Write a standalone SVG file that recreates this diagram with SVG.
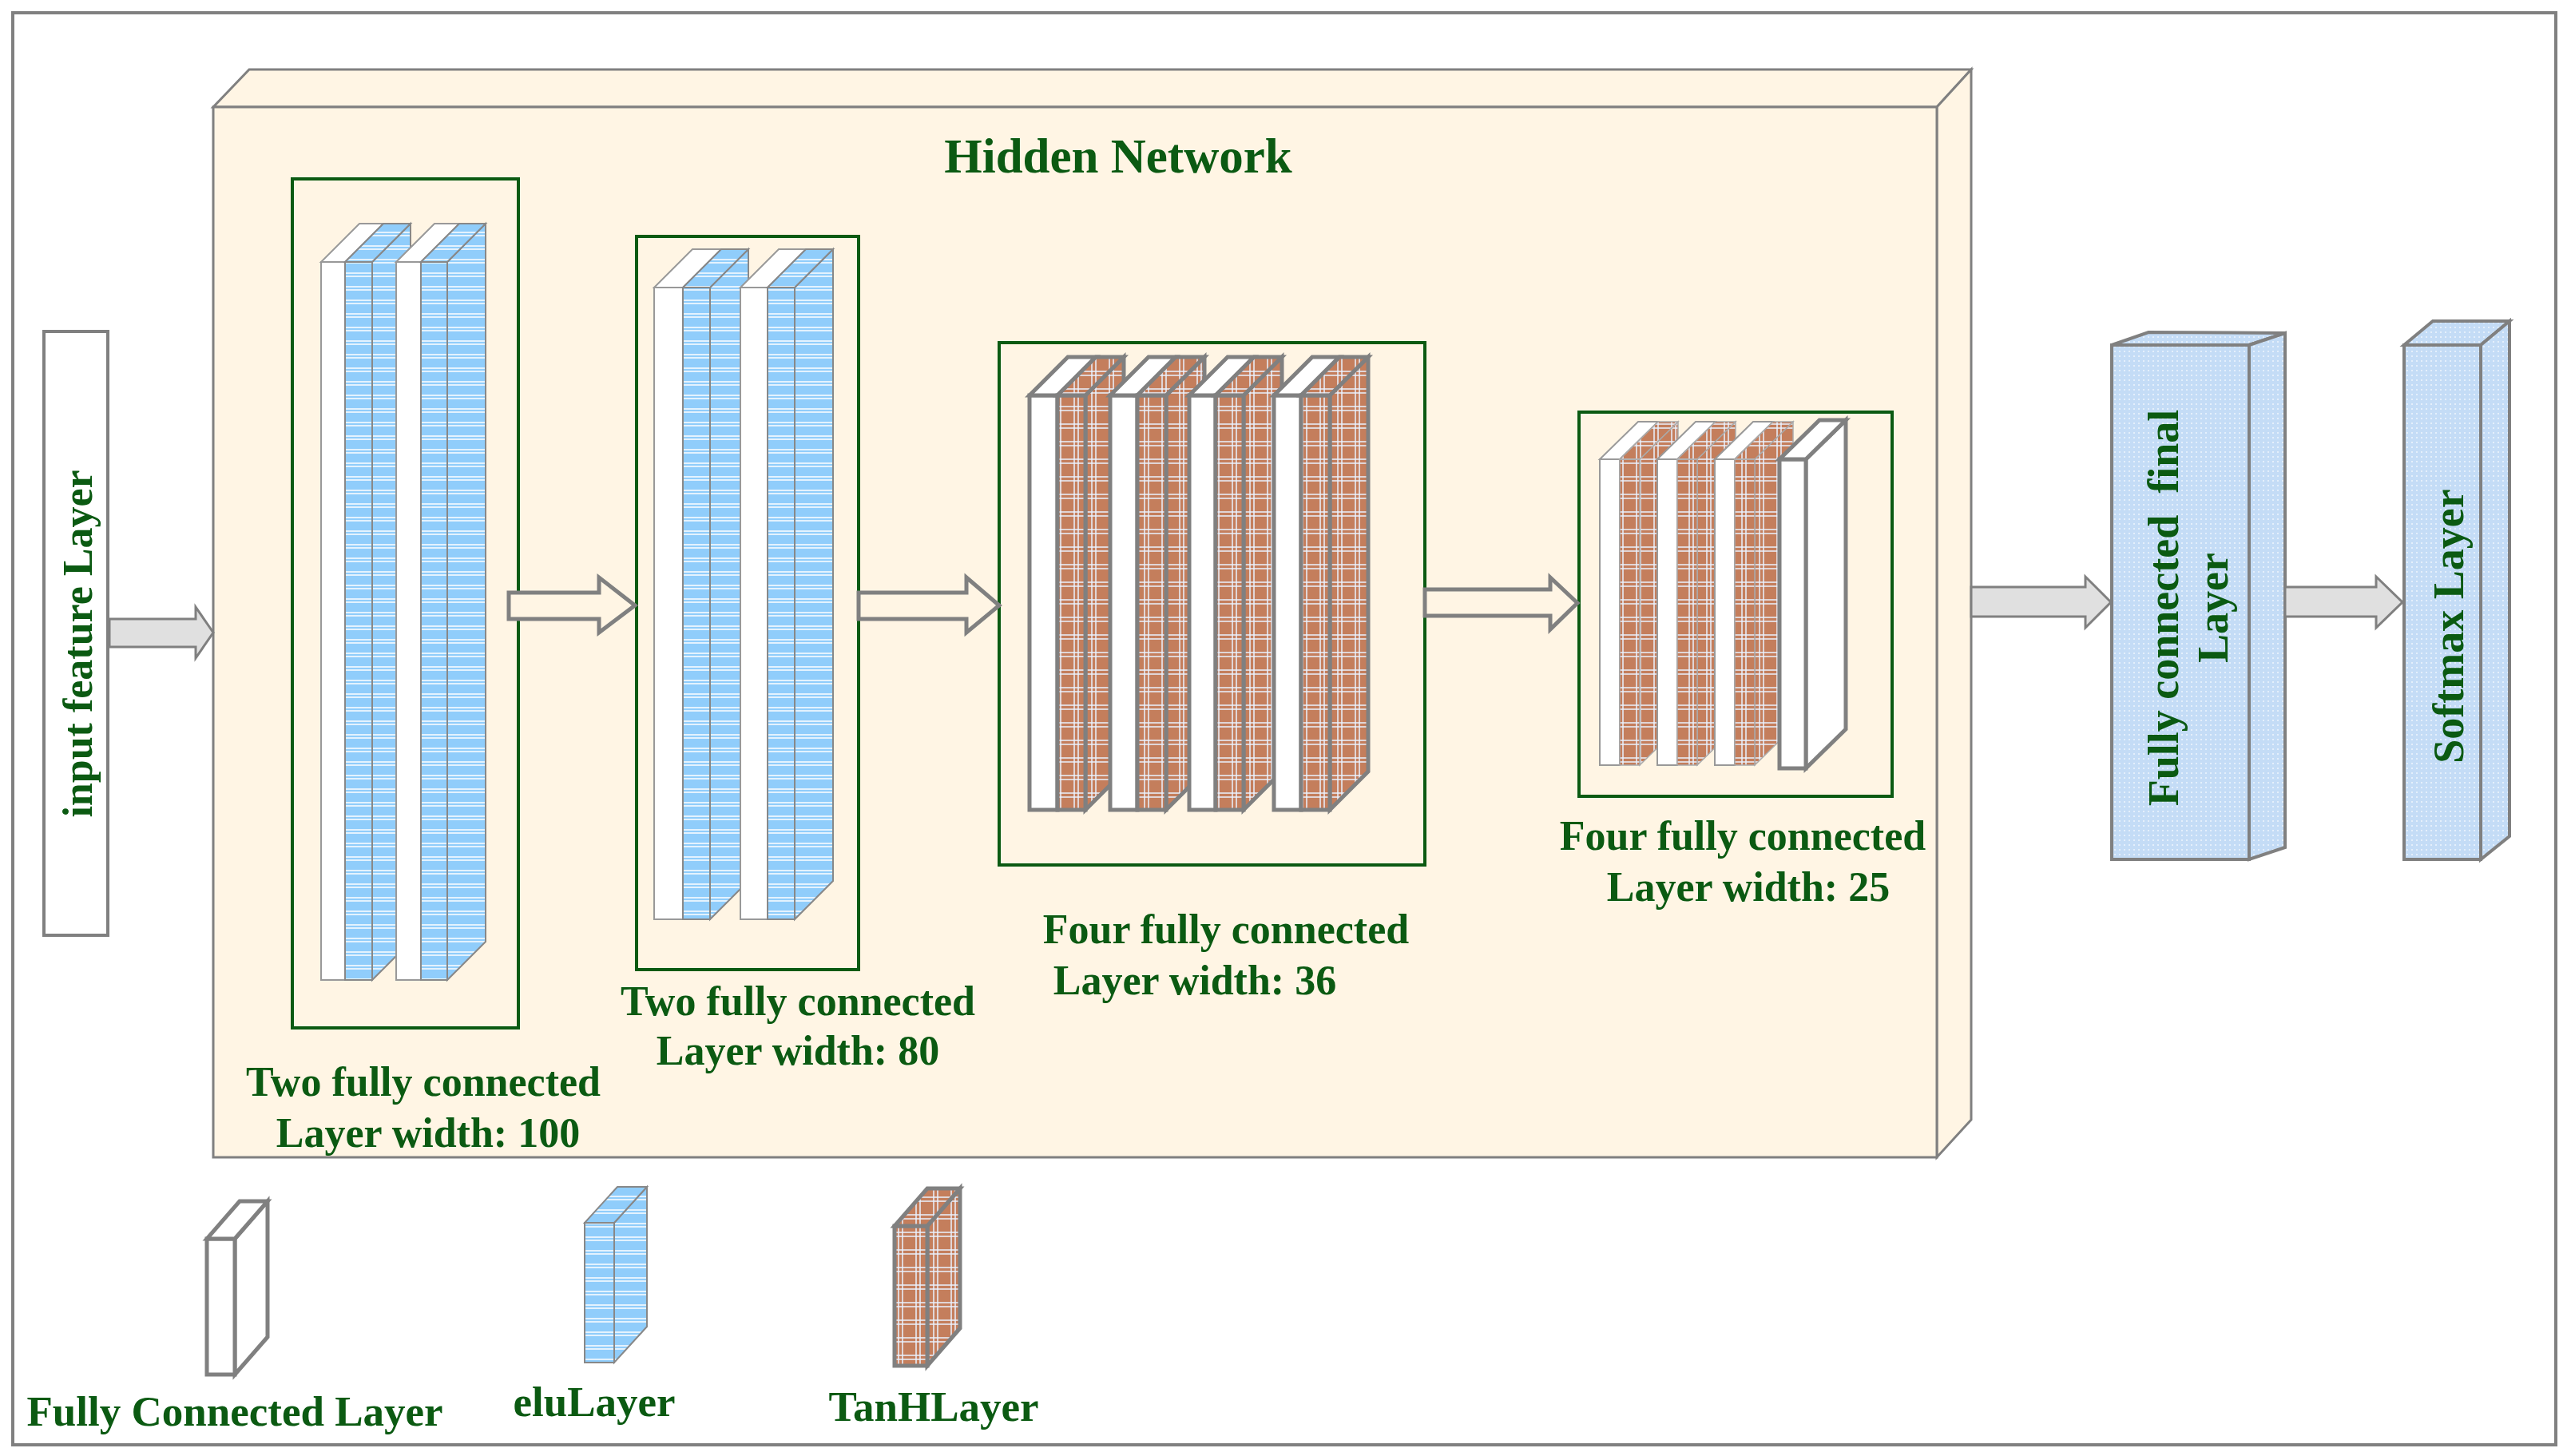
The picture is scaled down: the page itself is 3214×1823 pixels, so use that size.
<svg xmlns="http://www.w3.org/2000/svg" width="3214" height="1823" viewBox="0 0 3214 1823">
<defs>
<pattern id="elu" width="20" height="17" patternUnits="userSpaceOnUse"><rect width="20" height="17" fill="#90CDFB"/><line x1="0" y1="2" x2="20" y2="2" stroke="#fff" stroke-width="1.5"/><line x1="0" y1="6" x2="20" y2="6" stroke="#fff" stroke-width="1.5"/></pattern>
<pattern id="tanh" width="22" height="22" patternUnits="userSpaceOnUse"><rect width="22" height="22" fill="#C47E5C"/><path d="M3 0V22M8 0V22M0 3H22M0 8H22" stroke="#EAF2FF" stroke-width="1.5"/></pattern>
<pattern id="dots" width="6" height="6" patternUnits="userSpaceOnUse"><rect width="6" height="6" fill="#C4DCF6"/><rect x="1" y="1" width="2" height="2" fill="#E4EFFB"/></pattern>
<style>
.t{font-family:"Liberation Serif",serif;font-weight:bold;fill:#0B5A12;text-anchor:middle;dominant-baseline:central;white-space:pre}
.w{fill:#fff;stroke:#999;stroke-width:2}
.e{fill:url(#elu);stroke:#888;stroke-width:2}
.n{fill:url(#tanh);stroke:#808080;stroke-width:5}
.n2{fill:url(#tanh);stroke:#aaa;stroke-width:1.5}
.wk{fill:#fff;stroke:#808080;stroke-width:5}
.g{fill:none;stroke:#0B5A12;stroke-width:4}
.ha{fill:#FFF5E4;stroke:#808080;stroke-width:5}
.sa{fill:#E0E0E0;stroke:#808080;stroke-width:3}
</style>
</defs>
<rect x="0" y="0" width="3214" height="1823" fill="#fff"/>
<rect x="16" y="16" width="3184" height="1793" fill="#fff" stroke="#808080" stroke-width="4"/>

<g id="hidden-network">
<polygon points="267,134 2425,134 2468,87 312,87" fill="#FFF5E4" stroke="#808080" stroke-width="3"/>
<polygon points="2425,134 2468,87 2468,1402 2425,1449" fill="#FFF5E4" stroke="#808080" stroke-width="3"/>
<rect x="267" y="134" width="2158" height="1315" fill="#FFF5E4" stroke="#808080" stroke-width="3"/>
<text class="t" x="1400" y="195" font-size="61">Hidden Network</text>
</g>

<g id="input-layer">
<rect x="55" y="415" width="80" height="756" fill="#fff" stroke="#808080" stroke-width="4"/>
<text class="t" x="97" y="806" font-size="52" transform="rotate(-90 97 806)">input feature Layer</text>
</g>

<g id="group1">
<rect class="g" x="366" y="224" width="283" height="1063"/>
<rect class="w" x="402" y="328" width="30" height="899"/><polygon class="w" points="402,328 432,328 480,280 450,280"/>
<polygon class="e" points="466,328 514,280 514,1179 466,1227"/><rect class="e" x="432" y="328" width="34" height="899"/><polygon class="e" points="432,328 466,328 514,280 480,280"/>
<rect class="w" x="496" y="328" width="31" height="899"/><polygon class="w" points="496,328 527,328 575,280 544,280"/>
<polygon class="e" points="560,328 608,280 608,1179 560,1227"/><rect class="e" x="527" y="328" width="33" height="899"/><polygon class="e" points="527,328 560,328 608,280 575,280"/>
<text class="t" x="530" y="1354" font-size="52">Two fully connected</text>
<text class="t" x="536" y="1418" font-size="52">Layer width: 100</text>
</g>

<g id="group2">
<rect class="g" x="797" y="296" width="278" height="918"/>
<rect class="w" x="819" y="360" width="36" height="791"/><polygon class="w" points="819,360 855,360 903,312 867,312"/>
<polygon class="e" points="889,360 937,312 937,1103 889,1151"/><rect class="e" x="855" y="360" width="34" height="791"/><polygon class="e" points="855,360 889,360 937,312 903,312"/>
<rect class="w" x="927" y="360" width="34" height="791"/><polygon class="w" points="927,360 961,360 1009,312 975,312"/>
<polygon class="e" points="995,360 1043,312 1043,1103 995,1151"/><rect class="e" x="961" y="360" width="34" height="791"/><polygon class="e" points="961,360 995,360 1043,312 1009,312"/>
<text class="t" x="999" y="1253" font-size="52">Two fully connected</text>
<text class="t" x="999" y="1315" font-size="52">Layer width: 80</text>
</g>

<g id="group3">
<rect class="g" x="1251" y="429" width="533" height="654"/>
<rect class="wk" x="1289" y="495" width="35" height="519"/><polygon class="wk" points="1289,495 1324,495 1372,447 1337,447"/>
<polygon class="n" points="1359,495 1407,447 1407,966 1359,1014"/><rect class="n" x="1324" y="495" width="35" height="519"/><polygon class="n" points="1324,495 1359,495 1407,447 1372,447"/>
<rect class="wk" x="1390" y="495" width="34" height="519"/><polygon class="wk" points="1390,495 1424,495 1472,447 1438,447"/>
<polygon class="n" points="1460,495 1508,447 1508,966 1460,1014"/><rect class="n" x="1424" y="495" width="36" height="519"/><polygon class="n" points="1424,495 1460,495 1508,447 1472,447"/>
<rect class="wk" x="1489" y="495" width="33" height="519"/><polygon class="wk" points="1489,495 1522,495 1570,447 1537,447"/>
<polygon class="n" points="1557,495 1605,447 1605,966 1557,1014"/><rect class="n" x="1522" y="495" width="35" height="519"/><polygon class="n" points="1522,495 1557,495 1605,447 1570,447"/>
<rect class="wk" x="1595" y="495" width="34" height="519"/><polygon class="wk" points="1595,495 1629,495 1677,447 1643,447"/>
<polygon class="n" points="1665,495 1713,447 1713,966 1665,1014"/><rect class="n" x="1629" y="495" width="36" height="519"/><polygon class="n" points="1629,495 1665,495 1713,447 1677,447"/>
<text class="t" x="1535" y="1163" font-size="52">Four fully connected</text>
<text class="t" x="1496" y="1227" font-size="52">Layer width: 36</text>
</g>

<g id="group4">
<rect class="g" x="1977" y="516" width="392" height="481"/>
<rect class="w" x="2003" y="575" width="25" height="383"/><polygon class="w" points="2003,575 2028,575 2076,528 2051,528"/>
<polygon class="n2" points="2053,575 2101,528 2101,911 2053,958"/><rect class="n2" x="2028" y="575" width="25" height="383"/><polygon class="n2" points="2028,575 2053,575 2101,528 2076,528"/>
<rect class="w" x="2075" y="575" width="25" height="383"/><polygon class="w" points="2075,575 2100,575 2148,528 2123,528"/>
<polygon class="n2" points="2125,575 2173,528 2173,911 2125,958"/><rect class="n2" x="2100" y="575" width="25" height="383"/><polygon class="n2" points="2100,575 2125,575 2173,528 2148,528"/>
<rect class="w" x="2147" y="575" width="25" height="383"/><polygon class="w" points="2147,575 2172,575 2220,528 2195,528"/>
<polygon class="n2" points="2197,575 2245,528 2245,911 2197,958"/><rect class="n2" x="2172" y="575" width="25" height="383"/><polygon class="n2" points="2172,575 2197,575 2245,528 2220,528"/>
<polygon class="wk" points="2261,575 2311,526 2311,913 2261,962"/><rect class="wk" x="2228" y="575" width="33" height="387"/><polygon class="wk" points="2228,575 2261,575 2311,526 2278,526"/>
<text class="t" x="2182" y="1046" font-size="52">Four fully connected</text>
<text class="t" x="2189" y="1110" font-size="52">Layer width: 25</text>
</g>

<g id="fc-final">
<polygon points="2644,432 2816,432 2861,417 2690,416" fill="url(#dots)" stroke="#808080" stroke-width="4"/>
<polygon points="2816,432 2861,417 2861,1061 2816,1076" fill="url(#dots)" stroke="#808080" stroke-width="4"/>
<rect x="2644" y="432" width="172" height="644" fill="url(#dots)" stroke="#808080" stroke-width="4"/>
<text class="t" x="2709" y="761" font-size="54" transform="rotate(-90 2709 761)">Fully connected  final</text>
<text class="t" x="2771" y="761" font-size="54" transform="rotate(-90 2771 761)">Layer</text>
</g>

<g id="softmax">
<polygon points="3010,432 3106,432 3142,402 3046,402" fill="url(#dots)" stroke="#808080" stroke-width="4"/>
<polygon points="3106,432 3142,402 3142,1047 3106,1076" fill="url(#dots)" stroke="#808080" stroke-width="4"/>
<rect x="3010" y="432" width="96" height="644" fill="url(#dots)" stroke="#808080" stroke-width="4"/>
<text class="t" x="3066" y="784" font-size="54" transform="rotate(-90 3066 784)">Softmax Layer</text>
</g>

<g id="connectors">
<polygon class="sa" points="137,775 245,775 245,760 267,792 245,824 245,810 137,810"/>
<polygon class="ha" points="637,742 750,742 750,723 795,758 750,792 750,775 637,775"/>
<polygon class="ha" points="1075,742 1210,742 1210,723 1251,758 1210,792 1210,775 1075,775"/>
<polygon class="ha" points="1784,738 1941,738 1941,723 1975,755 1941,788 1941,771 1784,771"/>
<polygon class="sa" points="2468,735 2611,735 2611,722 2643,754 2611,786 2611,772 2468,772"/>
<polygon class="sa" points="2861,735 2975,735 2975,722 3008,754 2975,786 2975,772 2861,772"/>
</g>

<g id="legend-fc">
<polygon class="wk" points="294,1551 335,1504 335,1674 294,1721"/><rect class="wk" x="259" y="1551" width="35" height="170"/><polygon class="wk" points="259,1551 294,1551 335,1504 300,1504"/>
<text class="t" x="294" y="1767" font-size="53">Fully Connected Layer</text>
</g>
<g id="legend-elu">
<polygon class="e" points="769,1531 810,1486 810,1661 769,1706" stroke-width="5" stroke="#808080"/><rect class="e" x="732" y="1531" width="37" height="175" stroke-width="5" stroke="#808080"/><polygon class="e" points="732,1531 769,1531 810,1486 773,1486" stroke-width="5" stroke="#808080"/>
<text class="t" x="744" y="1755" font-size="53">eluLayer</text>
</g>
<g id="legend-tanh">
<polygon class="n" points="1161,1535 1202,1488 1202,1663 1161,1710"/><rect class="n" x="1120" y="1535" width="41" height="175"/><polygon class="n" points="1120,1535 1161,1535 1202,1488 1161,1488"/>
<text class="t" x="1169" y="1761" font-size="53">TanHLayer</text>
</g>
</svg>
